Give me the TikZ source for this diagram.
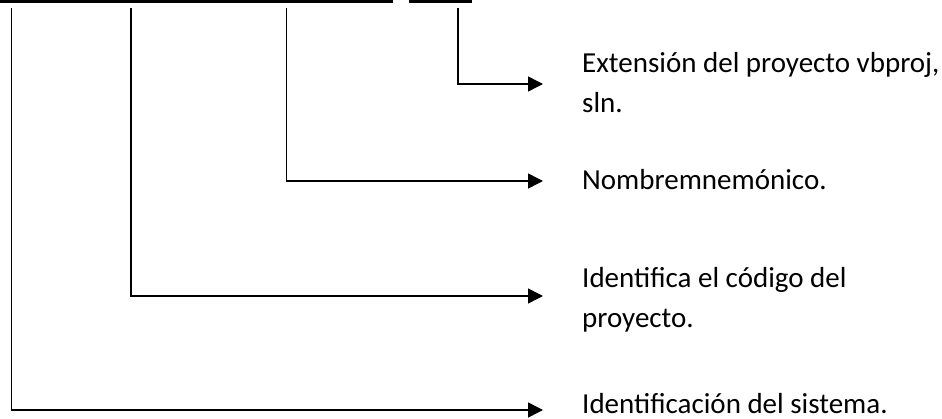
\documentclass[tikz,border=0pt]{standalone}
\usepackage{fontspec}
\setmainfont{Carlito}
\usetikzlibrary{arrows.meta}
\begin{document}
\begin{tikzpicture}[x=1pt,y=-1pt,
  conn/.style={line width=1.5pt, line join=miter, -{Triangle[length=15pt,width=15pt]}},
  bar/.style={fill=black},
  lbl/.style={anchor=base west, inner sep=0pt, align=left, font=\fontsize{29}{40}\selectfont}]
\useasboundingbox (0,0) rectangle (942,419);
% top bars
\fill[bar] (0,0) rectangle (393,3.5);
\fill[bar] (409,0) rectangle (472,3.5);
% connector ends
\coordinate (topA) at (458,8);
\coordinate (tipA) at (543,84);
\coordinate (topB) at (286.5,8);
\coordinate (tipB) at (543,181);
\coordinate (topC) at (131,8);
\coordinate (tipC) at (543,296);
\coordinate (topD) at (11.5,8);
\coordinate (tipD) at (543,410);
% labels (base anchor = baseline of the last line)
\node[lbl] (tA) at (582,113) {Extensión del proyecto vbproj,\\sln.};
\node[lbl] (tB) at (582,190) {Nombremnemónico.};
\node[lbl] (tC) at (582,328) {Identifica el código del\\proyecto.};
\node[lbl] (tD) at (582,413) {Identificación del sistema.};
% connectors
\draw[conn] (topA) |- (tipA);
\draw[conn] (topB) |- (tipB);
\draw[conn] (topC) |- (tipC);
\draw[conn] (topD) |- (tipD);
\end{tikzpicture}
\end{document}
